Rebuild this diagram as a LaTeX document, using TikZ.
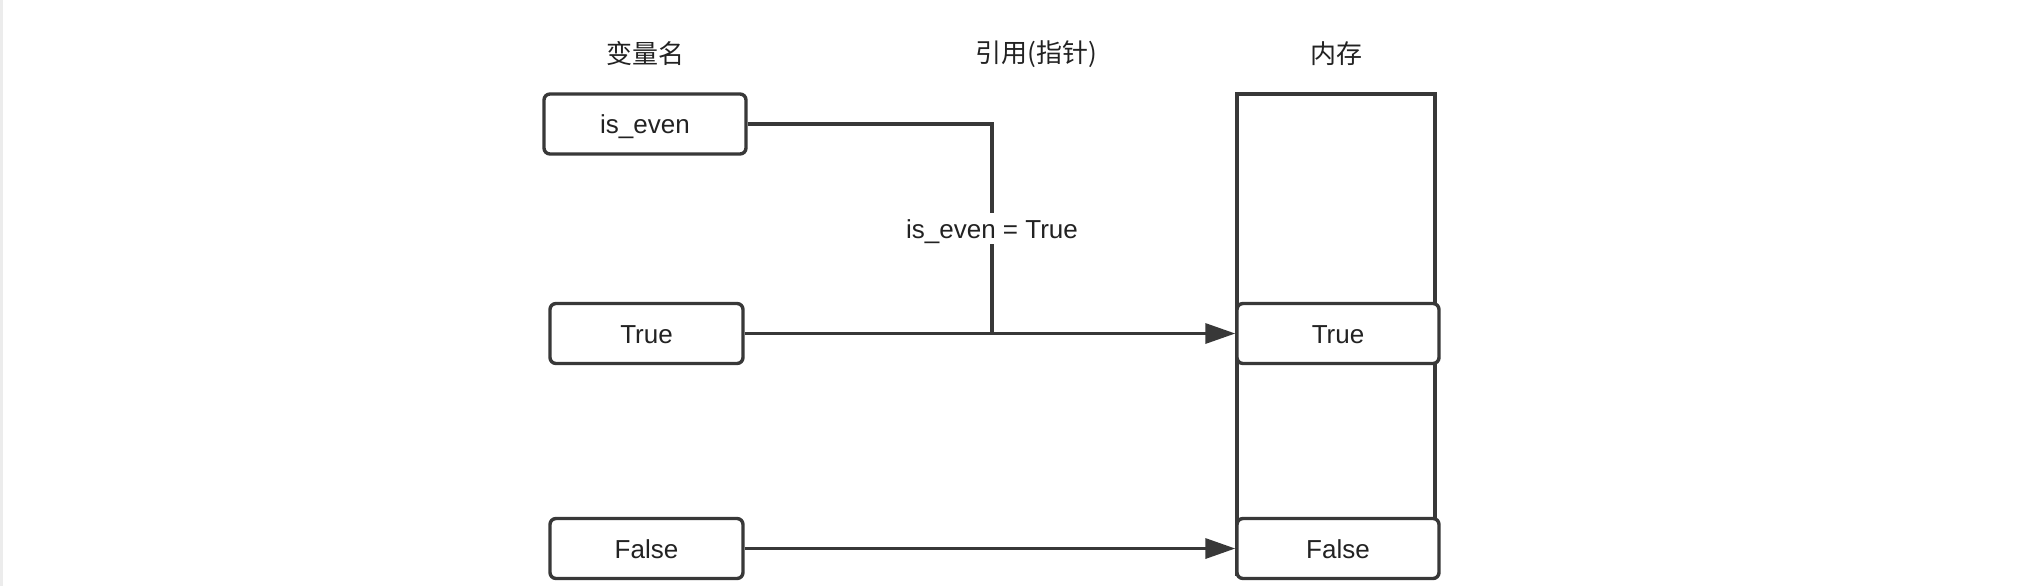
\documentclass[tikz,border=0pt]{standalone}
\usepackage{fontspec}
\setmainfont{Liberation Sans}
\newfontfamily\cjk{Noto Sans CJK SC}
\usetikzlibrary{arrows.meta,positioning}
\definecolor{linegray}{RGB}{56,56,56}
\definecolor{textgray}{RGB}{34,34,34}
\definecolor{edgegray}{RGB}{236,236,236}

\begin{document}
\begin{tikzpicture}[x=0.5pt,y=-0.5pt,
    varbox/.style={draw=linegray,line width=1.7pt,rounded corners=3pt,fill=white,
      minimum height=30pt,inner sep=0pt,text height=10.5pt,text depth=1pt,
      text=textgray,font=\fontsize{13}{15}\selectfont},
    header/.style={text=textgray,font=\cjk\fontsize{13}{15}\selectfont},
    link/.style={draw=linegray,line width=1.7pt},
    ptr/.style={link,-{Triangle[length=15pt,width=10pt]}}]
  \useasboundingbox (0,0) rectangle (2018,586);
  \draw[edgegray,line width=1.5pt] (1,0) -- (1,586);
  % column titles
  \node[header] (hname) at (645,54) {变量名};
  \node[header] (href) at (1036,54) {引用(指针)};
  \node[header] (hmem) at (1336,54) {内存};
  % memory block
  \node[draw=linegray,line width=1.7pt,minimum width=99pt,minimum height=240pt,inner sep=0pt]
    (mem) at (1336,334) {};
  % variables
  \node[varbox,minimum width=101pt] (iseven) at (645,124) {is\_even};
  \node[varbox,minimum width=96.5pt] (trueL) at (646.5,333.5) {True};
  \node[varbox,minimum width=96.5pt] (falseL) at (646.5,548.5) {False};
  % objects in memory
  \node[varbox,minimum width=101pt] (trueM) at (1338,333.5) {True};
  \node[varbox,minimum width=101pt] (falseM) at (1338,548.5) {False};
  % references
  \coordinate (elbow) at (992,333.5);
  \draw[link] (iseven.east) -| node[pos=0.75,fill=white,inner sep=2pt,text height=10.5pt,
    text depth=1pt,text=textgray,font=\fontsize{13}{15}\selectfont] (assign) {is\_even = True} (elbow);
  \draw[ptr] (trueL.east) -- (trueM.west);
  \draw[ptr] (falseL.east) -- (falseM.west);
\end{tikzpicture}
\end{document}
